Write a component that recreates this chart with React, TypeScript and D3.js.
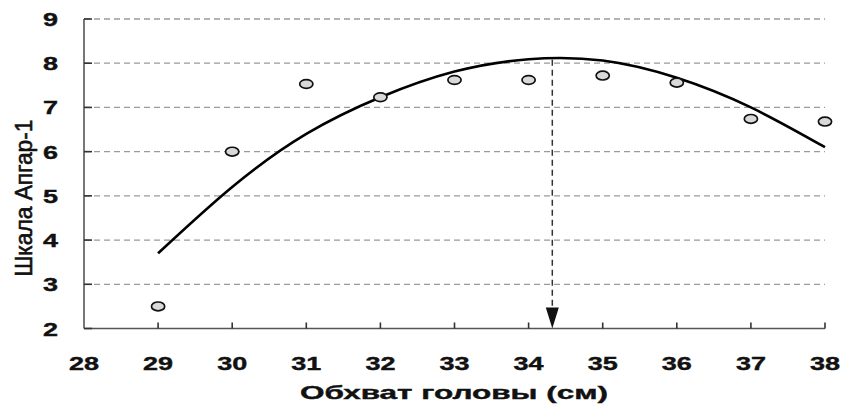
import React from "react";
import * as d3 from "d3";

// head circumference (cm) vs Apgar score at 1 min
const headCirc = [29, 30, 31, 32, 33, 34, 35, 36, 37, 38];
const apgar = [2.5, 6.0, 7.53, 7.23, 7.62, 7.62, 7.72, 7.56, 6.74, 6.68];
// fitted trend line, read at each cm
const trend = [3.7, 5.2, 6.4, 7.23, 7.81, 8.09, 8.06, 7.67, 7.0, 6.1];
const optimum = 34.32;
const optimumValue = 8.08;

const xTicks = [28, 29, 30, 31, 32, 33, 34, 35, 36, 37, 38];
const yTicks = [2, 3, 4, 5, 6, 7, 8, 9];

const W = 843;
const H = 410;

export default function App() {
  const x = d3.scaleLinear().domain([28, 38]).range([84, 825]);
  const y = d3.scaleLinear().domain([2, 9]).range([328.5, 19]);

  const line = d3
    .line<number>()
    .x((_, i) => x(headCirc[i]))
    .y((d) => y(d))
    .curve(d3.curveNatural);

  const ax = x(optimum);
  const axisColor = "#555";
  const sx = 1.42;

  return (
    <svg
      width={W}
      height={H}
      style={{ position: "absolute", left: 0, top: 0, background: "#fff" }}
      fontFamily="'Liberation Sans', Arial, sans-serif"
    >
      {/* gridlines */}
      {yTicks.slice(1).map((t) => (
        <line
          key={"g" + t}
          x1={x(28)}
          x2={x(38)}
          y1={y(t)}
          y2={y(t)}
          stroke="#9a9a9a"
          strokeWidth={1.3}
          strokeDasharray="6,4"
        />
      ))}

      {/* axes */}
      <line x1={x(28)} x2={x(28)} y1={y(9)} y2={y(2)} stroke={axisColor} strokeWidth={1.6} />
      <line x1={x(28)} x2={x(38)} y1={y(2)} y2={y(2)} stroke={axisColor} strokeWidth={1.6} />
      {yTicks.map((t) => (
        <line key={"yt" + t} x1={x(28)} x2={x(28) + 8} y1={y(t)} y2={y(t)} stroke="#333" strokeWidth={1.6} />
      ))}
      {xTicks.slice(1).map((t) => (
        <line key={"xt" + t} x1={x(t)} x2={x(t)} y1={y(2)} y2={y(2) - 6} stroke="#333" strokeWidth={1.6} />
      ))}

      {/* tick labels */}
      {yTicks.map((t) => (
        <text
          key={"yl" + t}
          transform={`translate(58,${y(t) + 7}) scale(${sx},1)`}
          textAnchor="end"
          fontSize={19}
          fontWeight="bold"
          fill="#111"
          stroke="#111"
          strokeWidth={0.4}
        >
          {t}
        </text>
      ))}
      {xTicks.map((t) => (
        <text
          key={"xl" + t}
          transform={`translate(${x(t)},370) scale(${sx},1)`}
          textAnchor="middle"
          fontSize={19}
          fontWeight="bold"
          fill="#111"
          stroke="#111"
          strokeWidth={0.4}
        >
          {t}
        </text>
      ))}

      {/* axis titles */}
      <text
        x={454}
        y={399}
        textAnchor="middle"
        fontSize={19}
        fontWeight="bold"
        fill="#111"
        stroke="#111"
        strokeWidth={0.4}
        textLength={308}
        lengthAdjust="spacingAndGlyphs"
      >
        Обхват головы (см)
      </text>
      <text
        transform="translate(32,198) rotate(-90)"
        textAnchor="middle"
        fontSize={23}
        fill="#111"
        stroke="#111"
        strokeWidth={0.6}
        textLength={157}
        lengthAdjust="spacingAndGlyphs"
      >
        Шкала Апгар-1
      </text>

      {/* optimum marker */}
      <line
        x1={ax}
        x2={ax}
        y1={y(optimumValue)}
        y2={y(2) - 18}
        stroke="#333"
        strokeWidth={1.5}
        strokeDasharray="6,4"
      />
      <path
        d={`M${ax - 6.5},${y(2) - 21} L${ax + 6.5},${y(2) - 21} L${ax},${y(2)} Z`}
        fill="#111"
      />

      {/* trend */}
      <path d={line(trend) || ""} fill="none" stroke="#000" strokeWidth={2.6} />

      {/* observed points */}
      {headCirc.map((c, i) => (
        <ellipse
          key={"p" + c}
          cx={x(c)}
          cy={y(apgar[i])}
          rx={6.6}
          ry={4.4}
          fill="#d9d9d9"
          stroke="#111"
          strokeWidth={1.7}
        />
      ))}
    </svg>
  );
}
